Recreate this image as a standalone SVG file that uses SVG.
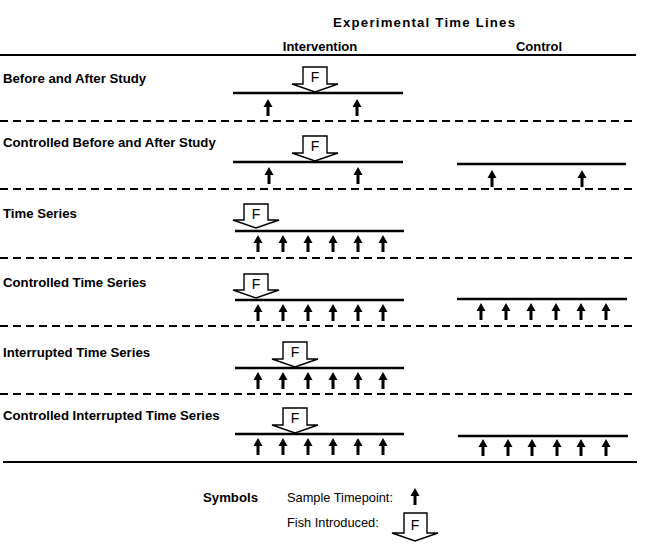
<svg xmlns="http://www.w3.org/2000/svg" xmlns:xlink="http://www.w3.org/1999/xlink" width="669" height="546" viewBox="0 0 669 546">
<style>
  .lbl { font-family: "Liberation Sans", Arial, sans-serif; font-weight: bold; font-size: 13.2px; fill: #000; }
  .hdr { font-family: "Liberation Sans", Arial, sans-serif; font-weight: bold; font-size: 13px; fill: #000; text-anchor: middle; }
  .reg { font-family: "Liberation Sans", Arial, sans-serif; font-size: 12.8px; fill: #000; }
  .ftx { font-family: "Liberation Sans", Arial, sans-serif; font-size: 14px; fill: #000; text-anchor: middle; }
  .tl { stroke: #000; stroke-width: 2.6; fill: none; }
  .solid { stroke: #000; stroke-width: 2; fill: none; }
  .dash { stroke: #000; stroke-width: 2; fill: none; stroke-dasharray: 8 5; }
  .fbox { fill: #fff; stroke: #000; stroke-width: 1.4; stroke-linejoin: miter; }
</style>
<defs>
  <path id="up" d="M0,0 L4.5,8 L1.5,8 L1.5,17 L-1.5,17 L-1.5,8 L-4.5,8 Z" fill="#000"/>
</defs>
<rect x="0" y="0" width="669" height="546" fill="#fff"/>

<g id="header">
  <text class="lbl" x="333" y="27" font-size="14" textLength="182">Experimental Time Lines</text>
  <text class="hdr" x="320" y="51">Intervention</text>
  <text class="hdr" x="539" y="51">Control</text>
</g>

<g id="connectors">
  <line class="solid" x1="0" y1="55" x2="636" y2="55"/>
  <line class="dash" x1="0" y1="121" x2="636" y2="121"/>
  <line class="dash" x1="0" y1="189" x2="636" y2="189"/>
  <line class="dash" x1="0" y1="258" x2="636" y2="258"/>
  <line class="dash" x1="0" y1="326" x2="636" y2="326"/>
  <line class="dash" x1="0" y1="394" x2="636" y2="394"/>
  <line class="solid" x1="3" y1="462" x2="637" y2="462"/>
</g>

<g id="row1">
  <text class="lbl" x="3" y="83">Before and After Study</text>
  <path class="fbox" d="M303,67 H327 V84 H338 L315,92 L292,84 H303 Z"/>
  <text class="ftx" x="315" y="82">F</text>
  <line class="tl" x1="233" y1="93" x2="403" y2="93"/>
  <use xlink:href="#up" x="268" y="99"/>
  <use xlink:href="#up" x="357" y="99"/>
</g>

<g id="row2">
  <text class="lbl" x="3" y="147">Controlled Before and After Study</text>
  <path class="fbox" d="M303,136 H327 V153 H338 L315,161 L292,153 H303 Z"/>
  <text class="ftx" x="315" y="151">F</text>
  <line class="tl" x1="233" y1="162" x2="403" y2="162"/>
  <use xlink:href="#up" x="269" y="167"/>
  <use xlink:href="#up" x="358" y="167"/>
  <line class="tl" x1="457" y1="164" x2="626" y2="164"/>
  <use xlink:href="#up" x="492" y="170"/>
  <use xlink:href="#up" x="582" y="170"/>
</g>

<g id="row3">
  <text class="lbl" x="3" y="218">Time Series</text>
  <path class="fbox" d="M244,204 H268 V220 H279 L256,228 L233,220 H244 Z"/>
  <text class="ftx" x="256" y="219">F</text>
  <line class="tl" x1="235" y1="231" x2="404" y2="231"/>
  <use xlink:href="#up" x="258" y="235"/>
  <use xlink:href="#up" x="283" y="235"/>
  <use xlink:href="#up" x="308" y="235"/>
  <use xlink:href="#up" x="333" y="235"/>
  <use xlink:href="#up" x="358" y="235"/>
  <use xlink:href="#up" x="383" y="235"/>
</g>

<g id="row4">
  <text class="lbl" x="3" y="287">Controlled Time Series</text>
  <path class="fbox" d="M244,274 H268 V290 H279 L256,298 L233,290 H244 Z"/>
  <text class="ftx" x="256" y="289">F</text>
  <line class="tl" x1="235" y1="300" x2="404" y2="300"/>
  <use xlink:href="#up" x="258" y="304"/>
  <use xlink:href="#up" x="283" y="304"/>
  <use xlink:href="#up" x="308" y="304"/>
  <use xlink:href="#up" x="333" y="304"/>
  <use xlink:href="#up" x="358" y="304"/>
  <use xlink:href="#up" x="383" y="304"/>
  <line class="tl" x1="457" y1="299" x2="627" y2="299"/>
  <use xlink:href="#up" x="481" y="303"/>
  <use xlink:href="#up" x="506" y="303"/>
  <use xlink:href="#up" x="531" y="303"/>
  <use xlink:href="#up" x="556" y="303"/>
  <use xlink:href="#up" x="581" y="303"/>
  <use xlink:href="#up" x="606" y="303"/>
</g>

<g id="row5">
  <text class="lbl" x="3" y="357">Interrupted Time Series</text>
  <path class="fbox" d="M283,342 H307 V359 H318 L295,367 L272,359 H283 Z"/>
  <text class="ftx" x="295" y="357">F</text>
  <line class="tl" x1="235" y1="368" x2="404" y2="368"/>
  <use xlink:href="#up" x="258" y="372"/>
  <use xlink:href="#up" x="283" y="372"/>
  <use xlink:href="#up" x="308" y="372"/>
  <use xlink:href="#up" x="333" y="372"/>
  <use xlink:href="#up" x="358" y="372"/>
  <use xlink:href="#up" x="383" y="372"/>
</g>

<g id="row6">
  <text class="lbl" x="3" y="420">Controlled Interrupted Time Series</text>
  <path class="fbox" d="M283,408 H307 V425 H318 L295,433 L272,425 H283 Z"/>
  <text class="ftx" x="295" y="423">F</text>
  <line class="tl" x1="235" y1="434" x2="404" y2="434"/>
  <use xlink:href="#up" x="258" y="438"/>
  <use xlink:href="#up" x="283" y="438"/>
  <use xlink:href="#up" x="308" y="438"/>
  <use xlink:href="#up" x="333" y="438"/>
  <use xlink:href="#up" x="358" y="438"/>
  <use xlink:href="#up" x="383" y="438"/>
  <line class="tl" x1="458" y1="436" x2="628" y2="436"/>
  <use xlink:href="#up" x="483" y="439"/>
  <use xlink:href="#up" x="508" y="439"/>
  <use xlink:href="#up" x="532" y="439"/>
  <use xlink:href="#up" x="557" y="439"/>
  <use xlink:href="#up" x="581" y="439"/>
  <use xlink:href="#up" x="606" y="439"/>
</g>

<g id="legend">
  <text class="lbl" x="203" y="502" font-size="12.5">Symbols</text>
  <text class="reg" x="287" y="502">Sample Timepoint:</text>
  <use xlink:href="#up" x="415" y="488"/>
  <text class="reg" x="287" y="527">Fish Introduced:</text>
  <path class="fbox" d="M404,513 H427 V533 H438 L415,541 L392,533 H404 Z"/>
  <text class="ftx" x="415" y="530">F</text>
</g>
</svg>
